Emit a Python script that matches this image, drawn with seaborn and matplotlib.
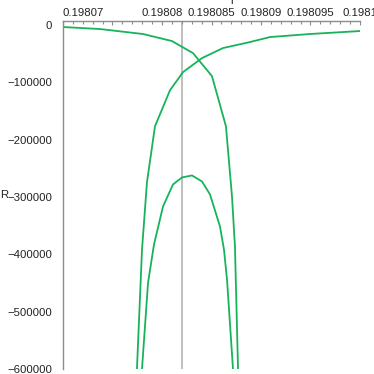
import numpy as np
import pandas as pd
import matplotlib
matplotlib.use("Agg")
import matplotlib.pyplot as plt
import seaborn as sns
from matplotlib.ticker import FixedLocator, MultipleLocator

# ---- data ----
branch1_x = [0.19807000, 0.19807374, 0.19807808, 0.19808101, 0.19808313, 0.19808505,
             0.19808646, 0.19808707, 0.19808737, 0.19808768]
branch1_y = [-3500, -7000, -15700, -28000, -49000, -89200,
             -176700, -299000, -386600, -600000]

branch2_x = [0.19810000, 0.19809495, 0.19809091, 0.19808889, 0.19808616, 0.19808404,
             0.19808212, 0.19808081, 0.19807929, 0.19807848, 0.19807798, 0.19807747]
branch2_y = [-10500, -15700, -21000, -29700, -40200, -57700,
             -82200, -113700, -176700, -274600, -391800, -600000]

branch3_x = [0.19807798, 0.19807859, 0.19807919, 0.19808010, 0.19808111, 0.19808202,
             0.19808303, 0.19808404, 0.19808485, 0.19808586, 0.19808626, 0.19808657,
             0.19808717]
branch3_y = [-600000, -449500, -383000, -316600, -278100, -265900,
             -262400, -272900, -295600, -351600, -391800, -444300,
             -600000]

vline_x = 0.198082

x_ticks = [0.19807, 0.198075, 0.19808, 0.198085, 0.19809, 0.198095, 0.1981]
x_tick_labels = ["0.19807", "", "0.19808", "0.198085", "0.19809", "0.198095", "0.1981"]
y_ticks = [0, -100000, -200000, -300000, -400000, -500000, -600000]
y_tick_labels = ["0", "\u2212100000", "\u2212200000", "\u2212300000",
                 "\u2212400000", "\u2212500000", "\u2212600000"]
y_label = "R"

# ---- plotting ----
sns.set_style("white")
plt.rcParams["font.family"] = ["Liberation Sans", "DejaVu Sans"]

W = H = 374
fig = plt.figure(figsize=(W / 100, H / 100), dpi=100)
ax = fig.add_axes([63 / W, (H - 369) / H, (360 - 63) / W, (369 - 21) / H])

green = "#17b35a"
frames = []
for name, xs, ys in [("b1", branch1_x, branch1_y),
                     ("b2", branch2_x, branch2_y),
                     ("b3", branch3_x, branch3_y)]:
    frames.append(pd.DataFrame({"x": xs, "y": ys, "branch": name}))
df = pd.concat(frames, ignore_index=True)

for name, sub in df.groupby("branch"):
    sns.lineplot(data=sub, x="x", y="y", sort=False, estimator=None,
                 color=green, lw=1.3, ax=ax, legend=False)

ax.axvline(vline_x, color="#b4b4b4", lw=1.2, zorder=0)

ax.set_xlim(0.19807, 0.1981)
ax.set_ylim(-600000, 7000)

for s in ["right", "bottom"]:
    ax.spines[s].set_visible(False)
for s in ["left", "top"]:
    ax.spines[s].set_color("#8c8c8c")
    ax.spines[s].set_linewidth(1.0)

ax.xaxis.set_ticks_position("top")
ax.xaxis.set_label_position("top")
ax.xaxis.set_major_locator(FixedLocator(x_ticks))
ax.set_xticklabels(x_tick_labels)
ax.xaxis.set_minor_locator(MultipleLocator(0.000001))
ax.tick_params(axis="x", which="major", direction="in", length=3, width=0.8,
               color="#8c8c8c", pad=2, labelsize=8.2, labelcolor="#222222")
ax.tick_params(axis="x", which="minor", direction="in", length=2, width=0.8,
               color="#8c8c8c")
ax.get_xticklabels()[0].set_horizontalalignment("left")

ax.yaxis.set_major_locator(FixedLocator(y_ticks))
ax.set_yticklabels(y_tick_labels)
ax.yaxis.set_minor_locator(MultipleLocator(20000))
ax.tick_params(axis="y", which="major", direction="out", length=3.5, width=0.8,
               color="#8c8c8c", pad=4.5, labelsize=8.2, labelcolor="#222222")
ax.tick_params(axis="y", which="minor", direction="out", length=2, width=0.8,
               color="#8c8c8c")

ax.set_xlabel("")
ax.set_ylabel("")
fig.text(0 / W, 1 - 195 / H, y_label, fontsize=8.2, color="#222222",
         ha="left", va="center")
fig.text(230 / W, 1 - 4 / H, "r", fontsize=8.2, color="#222222",
         ha="left", va="baseline")

fig.savefig("out.png", dpi=100)
